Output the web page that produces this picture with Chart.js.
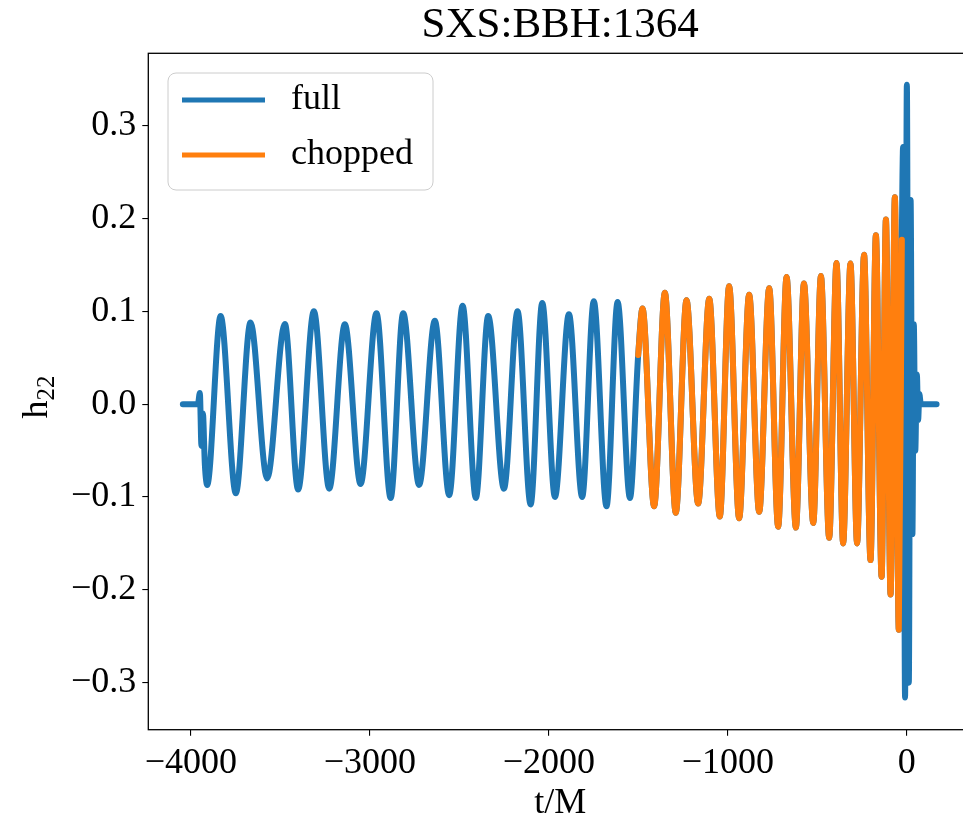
<!DOCTYPE html>
<html>
<head>
<meta charset="utf-8">
<script src="https://cdn.jsdelivr.net/npm/chart.js@4.4.1/dist/chart.umd.min.js"></script>
<style>
  html, body { margin: 0; padding: 0; background: #fff; }
  #frame { width: 963px; height: 825px; overflow: hidden; position: relative; }
  #box { width: 972px; height: 825px; position: absolute; left: 0; top: 0; }
</style>
</head>
<body>
<div id="frame"><div id="box"><canvas id="wave"></canvas></div></div>
<script>
// h22 extrema of SXS:BBH:1364 (t in units of M)
const fullT = [-4045, -3961, -3950, -3941, -3933, -3922, -3909, -3834, -3749, -3667,
  -3574, -3475, -3401, -3313, -3227, -3140, -3052, -2963, -2884, -2814,
  -2725, -2637, -2557, -2482, -2408, -2339, -2251, -2175, -2102, -2037,
  -1966, -1888, -1814, -1749, -1678, -1616, -1547, -1501, -1477, -1412,
  -1352, -1291, -1231, -1166, -1104, -1045, -993, -937, -881, -825,
  -769, -719, -672, -620, -575, -523, -480, -434, -393, -356,
  -315, -278, -239, -203, -173, -141, -117, -91, -67, -45,
  -28, -21, -10, 0, 11, 21, 31, 39, 47, 56,
  63, 70, 78, 166];
const fullH = [0, 0, 0.012, -0.045, -0.01, -0.065, -0.087, 0.095, -0.096, 0.088,
  -0.080, 0.0865, -0.092, 0.100, -0.091, 0.086, -0.086, 0.098, -0.101, 0.098,
  -0.087, 0.090, -0.098, 0.106, -0.101, 0.095, -0.091, 0.100, -0.108, 0.109,
  -0.100, 0.097, -0.100, 0.111, -0.110, 0.110, -0.101, 0.053, 0.103, -0.110,
  0.120, -0.117, 0.112, -0.107, 0.1135, -0.121, 0.127, -0.123, 0.118, -0.116,
  0.125, -0.132, 0.137, -0.133, 0.130, -0.128, 0.138, -0.144, 0.152, -0.150,
  0.1515, -0.150, 0.161, -0.168, 0.182, -0.186, 0.199, -0.205, 0.223, -0.243,
  0.177, 0.277, -0.316, 0.344, -0.30, 0.22, -0.14, 0.086, -0.05, 0.032,
  -0.017, 0.011, 0, 0];

// the chopped waveform is the same signal kept between these times
const chopStart = -1501;
const chopEnd = -28;

const xTicks = [-4000, -3000, -2000, -1000, 0];
const yTicks = [-0.3, -0.2, -0.1, 0.0, 0.1, 0.2, 0.3];

const serif = "'Liberation Serif', 'DejaVu Serif', serif";
const blue = '#1f77b4';
const orange = '#ff7f0e';

const fullPts = fullT.map((t, i) => ({ x: t, y: fullH[i] }));
const chopPts = fullPts.filter(p => p.x >= chopStart && p.x <= chopEnd);

const minus = s => s.replace('-', '\u2212');

// axes box drawn on top of the curves
const framePlugin = {
  id: 'frame',
  afterDatasetsDraw(chart) {
    const { ctx, chartArea: a } = chart;
    ctx.save();
    ctx.strokeStyle = '#000';
    ctx.lineWidth = 1.3;
    ctx.strokeRect(a.left, a.top, a.right - a.left, a.bottom - a.top);
    ctx.restore();
  }
};

// y label with subscript, rotated
const yLabelPlugin = {
  id: 'yLabel',
  afterDraw(chart) {
    const ctx = chart.ctx;
    ctx.save();
    ctx.translate(47, 397);
    ctx.rotate(-Math.PI / 2);
    ctx.fillStyle = '#000';
    ctx.textBaseline = 'alphabetic';
    ctx.font = '36px ' + serif;
    const hw = ctx.measureText('h').width;
    ctx.font = '25px ' + serif;
    const sw = ctx.measureText('22').width;
    const x0 = -(hw + sw) / 2;
    ctx.font = '36px ' + serif;
    ctx.fillText('h', x0, 0);
    ctx.font = '25px ' + serif;
    ctx.fillText('22', x0 + hw, 7);
    ctx.restore();
  }
};

// legend box in the upper left of the axes
const legendPlugin = {
  id: 'legendBox',
  afterDraw(chart) {
    const ctx = chart.ctx;
    ctx.save();
    ctx.beginPath();
    ctx.roundRect(168, 73, 265, 117, 8);
    ctx.fillStyle = 'rgba(255,255,255,0.8)';
    ctx.fill();
    ctx.strokeStyle = '#cccccc';
    ctx.lineWidth = 1;
    ctx.stroke();
    const rows = [100, 155];
    chart.data.datasets.forEach((ds, i) => {
      const y = rows[i];
      ctx.beginPath();
      ctx.moveTo(182, y);
      ctx.lineTo(265, y);
      ctx.strokeStyle = ds.borderColor;
      ctx.lineWidth = 5;
      ctx.stroke();
      ctx.fillStyle = '#000';
      ctx.font = '36px ' + serif;
      ctx.textBaseline = 'middle';
      ctx.fillText(ds.label, 291, y);
    });
    ctx.restore();
  }
};

new Chart(document.getElementById('wave'), {
  type: 'line',
  data: {
    datasets: [
      {
        label: 'full',
        data: fullPts,
        borderColor: blue,
        borderWidth: 6,
        order: 2
      },
      {
        label: 'chopped',
        data: chopPts,
        borderColor: orange,
        borderWidth: 6,
        order: 1
      }
    ]
  },
  options: {
    responsive: true,
    maintainAspectRatio: false,
    animation: false,
    layout: { padding: 0 },
    elements: {
      point: { radius: 0 },
      line: { cubicInterpolationMode: 'monotone', borderCapStyle: 'round', borderJoinStyle: 'round' }
    },
    plugins: {
      legend: { display: false },
      tooltip: { enabled: false },
      title: {
        display: true,
        text: 'SXS:BBH:1364',
        fullSize: false,
        color: '#000',
        font: { family: serif, size: 43, weight: 'normal' },
        padding: { top: 0, bottom: 1.7 }
      }
    },
    scales: {
      x: {
        type: 'linear',
        min: -4238,
        max: 364,
        afterBuildTicks: axis => { axis.ticks = xTicks.map(v => ({ value: v })); },
        afterFit: scale => { scale.height = 95.3; },
        border: { display: false },
        grid: { drawOnChartArea: false, drawTicks: true, tickLength: 6, color: '#000', lineWidth: 1.1 },
        ticks: {
          autoSkip: false,
          maxRotation: 0,
          padding: 6,
          color: '#000',
          font: { family: serif, size: 36 },
          callback: v => minus(String(v))
        },
        title: {
          display: true,
          text: 't/M',
          color: '#000',
          font: { family: serif, size: 36 },
          padding: { top: 0, bottom: 0 }
        }
      },
      y: {
        type: 'linear',
        min: -0.3507,
        max: 0.378,
        afterBuildTicks: axis => { axis.ticks = yTicks.map(v => ({ value: v })); },
        afterFit: scale => { scale.width = 148.3; },
        border: { display: false },
        grid: { drawOnChartArea: false, drawTicks: true, tickLength: 6, color: '#000', lineWidth: 1.1 },
        ticks: {
          autoSkip: false,
          padding: 6,
          color: '#000',
          font: { family: serif, size: 36 },
          callback: v => minus(v.toFixed(1))
        }
      }
    }
  },
  plugins: [framePlugin, legendPlugin, yLabelPlugin]
});
</script>
</body>
</html>
